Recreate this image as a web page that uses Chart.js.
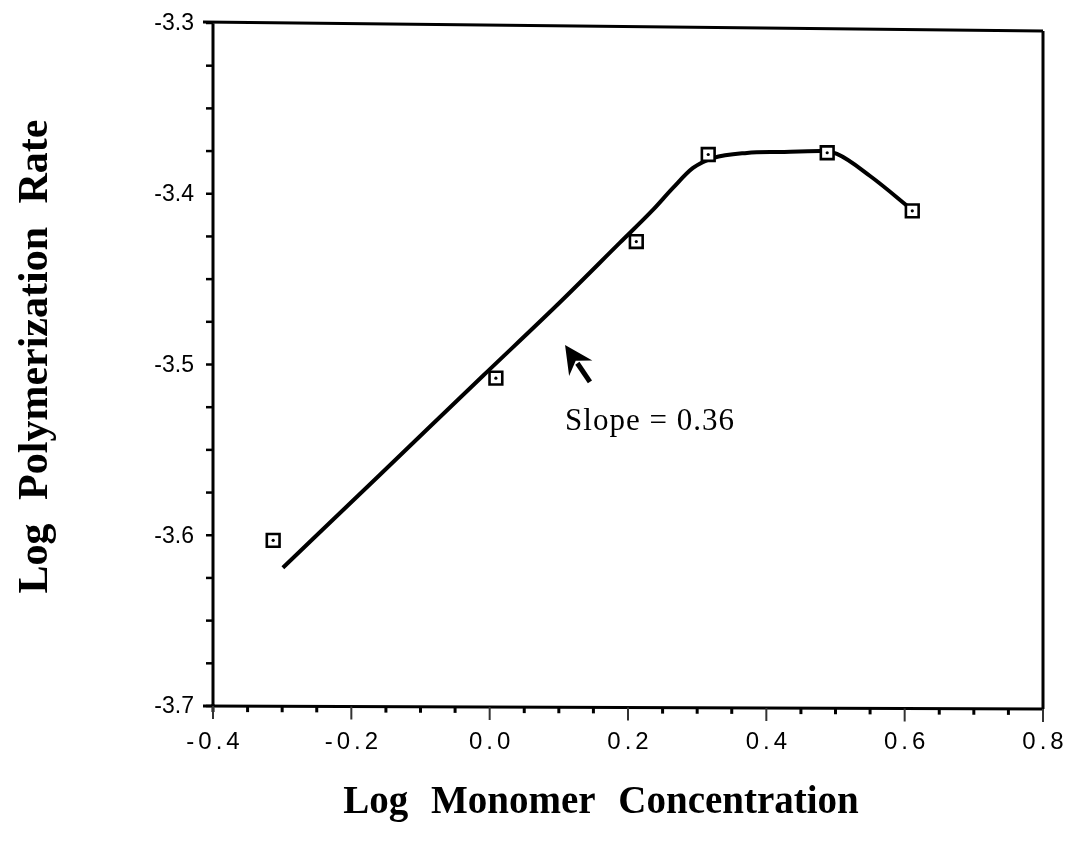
<!DOCTYPE html>
<html>
<head>
<meta charset="utf-8">
<script src="https://cdn.jsdelivr.net/npm/chart.js@4/dist/chart.umd.min.js"></script>
<style>
  html, body { margin: 0; padding: 0; background: #ffffff; }
  canvas { display: block; }
</style>
</head>
<body>
<canvas id="c" width="1066" height="848"></canvas>
<script>
// Measured rates (square markers)
const pointX = [-0.313, 0.009, 0.212, 0.316, 0.488, 0.611];
const pointY = [-3.603, -3.508, -3.428, -3.377, -3.376, -3.410];

// Hand-drawn trend curve through the data
const curveX = [-0.299, -0.159, -0.010, 0.102, 0.188, 0.236, 0.265, 0.294, 0.323, 0.372, 0.420, 0.478, 0.502, 0.550, 0.611];
const curveY = [-3.619, -3.5647, -3.5067, -3.4634, -3.4288, -3.4095, -3.3966, -3.3849, -3.3791, -3.3761, -3.3755, -3.375, -3.3767, -3.3896, -3.4095];

// Axis tick labels
const xTickLabels = ['-0.4', '-0.2', '0.0', '0.2', '0.4', '0.6', '0.8'];
const yTickLabels = ['-3.3', '-3.4', '-3.5', '-3.6', '-3.7'];

// Slope annotation (data coordinates)
const arrowTip = [0.109, -3.4886];
const arrowTail = [0.145, -3.5102];
const slopeText = 'Slope = 0.36';
const slopeAt = [0.109, -3.5337];

const xTitle = 'Log Monomer Concentration';
const yTitle = 'Log Polymerization Rate';

const toPts = (xs, ys) => xs.map((x, i) => ({ x: x, y: ys[i] }));

const SANS = "'Liberation Sans', Arial, sans-serif";
const SERIF = "'Liberation Serif', 'Times New Roman', serif";

// Frame, ticks, tick labels, titles and the slope note
const framePlugin = {
  id: 'frame',
  afterDatasetsDraw(chart) {
    const ctx = chart.ctx;
    const xs = chart.scales.x, ys = chart.scales.y;
    const a = chart.chartArea;
    ctx.save();
    ctx.strokeStyle = '#000';
    ctx.lineCap = 'butt';

    // frame lines
    ctx.lineWidth = 3;
    ctx.beginPath();
    ctx.moveTo(a.left, a.top);
    ctx.lineTo(a.left, a.bottom + 6);
    ctx.moveTo(a.left - 10, a.bottom);
    ctx.lineTo(a.right, a.bottom + 3);
    ctx.moveTo(a.left - 10, a.top - 1);
    ctx.lineTo(a.right, a.top + 8);
    ctx.moveTo(a.right, a.top + 8);
    ctx.lineTo(a.right, a.bottom + 3);
    ctx.stroke();

    // y ticks every 0.025 (outside, left)
    ctx.lineWidth = 2.5;
    const yMin = ys.min, yMax = ys.max;
    for (let k = 0; k <= Math.round((yMax - yMin) / 0.025); k++) {
      const py = ys.getPixelForValue(yMin + k * 0.025);
      ctx.beginPath();
      ctx.moveTo(a.left - 7, py);
      ctx.lineTo(a.left, py);
      ctx.stroke();
    }
    // x ticks every 0.05 (below), longer on labelled values
    const xMin = xs.min, xMax = xs.max;
    const nx = Math.round((xMax - xMin) / 0.05);
    for (let k = 0; k <= nx; k++) {
      const px = xs.getPixelForValue(xMin + k * 0.05);
      const major = k % 4 === 0;
      const base = a.bottom + 3 * (px - a.left) / (a.right - a.left);
      ctx.lineWidth = major ? 2 : 3;
      ctx.strokeStyle = major ? '#333' : '#000';
      ctx.beginPath();
      ctx.moveTo(px, base);
      ctx.lineTo(px, base + (major ? 13 : 6));
      ctx.stroke();
    }

    // tick labels
    ctx.fillStyle = '#000';
    ctx.font = '23px ' + SANS;
    ctx.textBaseline = 'middle';
    ctx.textAlign = 'right';
    ctx.letterSpacing = '0px';
    yTickLabels.forEach(t => {
      ctx.fillText(t, a.left - 19, ys.getPixelForValue(parseFloat(t)) + 1);
    });
    ctx.textAlign = 'center';
    ctx.font = '24px ' + SANS;
    ctx.letterSpacing = '4px';
    xTickLabels.forEach(t => {
      ctx.fillText(t, xs.getPixelForValue(parseFloat(t)) + 2, a.bottom + 36);
    });
    ctx.letterSpacing = '0px';

    // axis titles
    ctx.font = 'bold 39px ' + SERIF;
    ctx.textBaseline = 'alphabetic';
    ctx.wordSpacing = '13px';
    ctx.fillText(xTitle, (a.left + a.right) / 2 - 27, 813);
    ctx.save();
    ctx.translate(47, (a.top + a.bottom) / 2 - 8);
    ctx.rotate(-Math.PI / 2);
    ctx.font = 'bold 42px ' + SERIF;
    ctx.fillText(yTitle, 0, 0);
    ctx.restore();
    ctx.wordSpacing = '0px';

    // slope arrow
    const tx = xs.getPixelForValue(arrowTip[0]), ty = ys.getPixelForValue(arrowTip[1]);
    const bx = xs.getPixelForValue(arrowTail[0]), by = ys.getPixelForValue(arrowTail[1]);
    const ang = Math.atan2(by - ty, bx - tx);
    const ux = Math.cos(ang), uy = Math.sin(ang);
    const hl = 28, hw = 14;
    ctx.lineWidth = 5;
    ctx.strokeStyle = '#000';
    ctx.beginPath();
    ctx.moveTo(tx + ux * (hl - 6), ty + uy * (hl - 6));
    ctx.lineTo(bx, by);
    ctx.stroke();
    ctx.beginPath();
    ctx.moveTo(tx, ty);
    ctx.lineTo(tx + ux * hl - uy * hw, ty + uy * hl + ux * hw);
    ctx.lineTo(tx + ux * (hl - 9), ty + uy * (hl - 9));
    ctx.lineTo(tx + ux * hl + uy * hw, ty + uy * hl - ux * hw);
    ctx.closePath();
    ctx.fill();

    // slope label
    ctx.font = '31px ' + SERIF;
    ctx.letterSpacing = '1px';
    ctx.textAlign = 'left';
    ctx.textBaseline = 'middle';
    ctx.fillText(slopeText, xs.getPixelForValue(slopeAt[0]), ys.getPixelForValue(slopeAt[1]));
    ctx.letterSpacing = '0px';
    ctx.restore();
  }
};

new Chart(document.getElementById('c'), {
  type: 'line',
  data: {
    datasets: [
      {
        label: 'centre',
        data: toPts(pointX, pointY),
        showLine: false,
        pointStyle: 'circle',
        pointRadius: 1.6,
        pointBackgroundColor: '#000',
        pointBorderWidth: 0,
        order: 0
      },
      {
        label: 'rate',
        data: toPts(pointX, pointY),
        showLine: false,
        pointStyle: 'rect',
        pointRadius: 9,
        pointBorderWidth: 2.6,
        pointBorderColor: '#000',
        pointBackgroundColor: '#fff',
        order: 1
      },
      {
        label: 'trend',
        data: toPts(curveX, curveY),
        borderColor: '#000',
        borderWidth: 4,
        cubicInterpolationMode: 'monotone',
        pointRadius: 0,
        fill: false,
        order: 2
      }
    ]
  },
  options: {
    responsive: false,
    animation: false,
    devicePixelRatio: 1,
    layout: { padding: { left: 0, top: 23, right: 23, bottom: 0 } },
    plugins: { legend: { display: false }, tooltip: { enabled: false } },
    scales: {
      x: {
        type: 'linear', min: -0.4, max: 0.8,
        grid: { display: false }, border: { display: false },
        ticks: { display: false },
        afterFit: s => { s.height = 142; }
      },
      y: {
        type: 'linear', min: -3.7, max: -3.3,
        grid: { display: false }, border: { display: false },
        ticks: { display: false },
        afterFit: s => { s.width = 213; }
      }
    }
  },
  plugins: [framePlugin]
});
</script>
</body>
</html>
